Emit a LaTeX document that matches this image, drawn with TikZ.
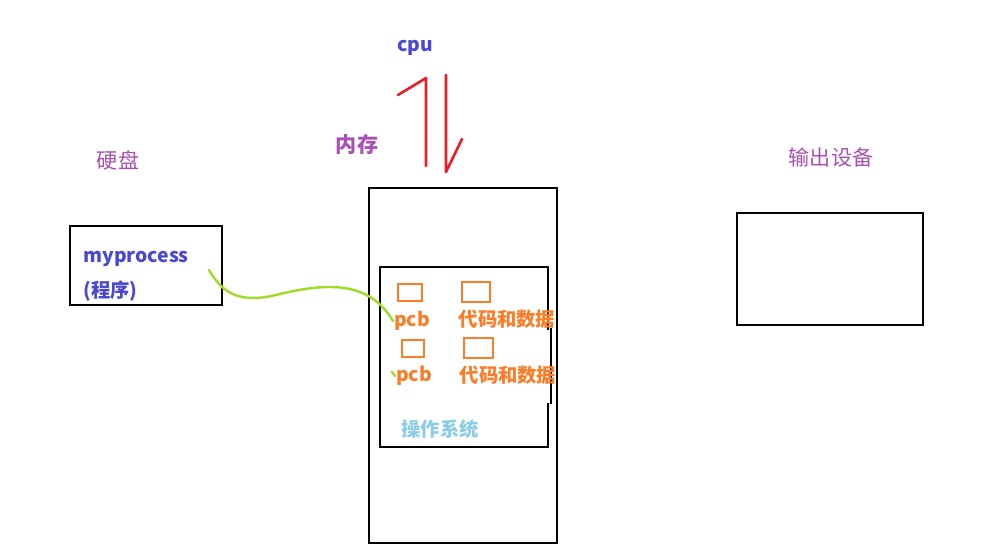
\documentclass[tikz,border=0pt]{standalone}
\usepackage{fontspec}
\setmainfont{Noto Sans CJK SC}
\usepackage{tikz}
\usetikzlibrary{positioning}
\definecolor{cpublue}{RGB}{72,72,210}
\definecolor{labpurple}{RGB}{170,80,180}
\definecolor{pcborange}{RGB}{250,125,40}
\definecolor{oscyan}{RGB}{140,205,230}
\definecolor{linkgreen}{RGB}{160,220,40}
\definecolor{arrred}{RGB}{235,30,40}

\begin{document}
\begin{tikzpicture}[x=0.02cm, y=-0.02cm,
	box/.style={draw=black, line width=1.5pt, fill=none},
	smallbox/.style={draw=pcborange, line width=1.4pt, fill=none},
	lab/.style={text=labpurple, font=\fontsize{12}{14}\selectfont},
	pcbtext/.style={text=pcborange, font=\fontsize{11}{13}\selectfont\bfseries}]
	\useasboundingbox (0, 0) rectangle (1000, 556);

	% labels
	\node [text=cpublue, font=\fontsize{11}{13}\selectfont\bfseries] (cpu) at (415, 48) {cpu};
	\node [lab, font=\fontsize{12}{14}\selectfont\bfseries] (neicun) at (357, 144) {内存};
	\node [lab] (yingpan) at (118, 160) {硬盘};
	\node [lab] (shuchu) at (831, 157) {输出设备};

	% cpu <-> memory
	\coordinate (up1) at (426, 166);
	\coordinate (up2) at (426, 78);
	\coordinate (up3) at (398, 95);
	\coordinate (dn1) at (446, 75);
	\coordinate (dn2) at (446, 172);
	\coordinate (dn3) at (462, 139);
	\draw [arrred, line width=1.5pt, line cap=round, line join=round] (up1) -- (up2) -- (up3);
	\draw [arrred, line width=1.5pt, line cap=round, line join=round] (dn1) -- (dn2) -- (dn3);

	% boxes
	\draw [box] (70, 226) rectangle (222, 305);
	\draw [box] (369, 188) rectangle (557, 543);
	\draw [box] (737, 213) rectangle (923, 325);
	\draw [box] (548, 330) -- (548, 267) -- (380, 267) -- (380, 447) -- (548, 447) -- (548, 403);
	\draw [box] (551, 328) -- (551, 404);

	\node [text=cpublue, font=\fontsize{11}{13}\selectfont\bfseries, anchor=west, inner sep=0pt] (myproc) at (83, 259) {myprocess};
	\node [text=cpublue, font=\fontsize{11}{13}\selectfont\bfseries, anchor=west, inner sep=0pt] (chengxu) at (83, 291) {(程序)};

	% pcb and code/data
	\draw [smallbox] (398, 284) rectangle (422, 301);
	\draw [smallbox] (462, 282) rectangle (490, 302);
	\draw [smallbox] (402, 340) rectangle (424, 357);
	\draw [smallbox] (464, 338) rectangle (493, 358);
	\node [pcbtext] (pcb1) at (412, 321) {pcb};
	\node [pcbtext] (data1) at (507, 319) {代码和数据};
	\node [pcbtext] (pcb2) at (414, 376) {pcb};
	\node [pcbtext] (data2) at (508, 375) {代码和数据};
	\node [text=oscyan, font=\fontsize{11}{13}\selectfont\bfseries] (os) at (440, 429) {操作系统};

	% link
	\coordinate (from) at (209, 270);
	\coordinate (to) at (393, 321);
	\draw [linkgreen, line width=1.4pt, line cap=round] (from) .. controls (222, 292) and (238, 305) .. (280, 294) .. controls (330, 282) and (370, 282) .. (to);
	\coordinate (tick1) at (392, 372);
	\coordinate (tick2) at (395, 376);
	\draw [linkgreen, line width=1.4pt, line cap=round] (tick1) -- (tick2);
\end{tikzpicture}
\end{document}
